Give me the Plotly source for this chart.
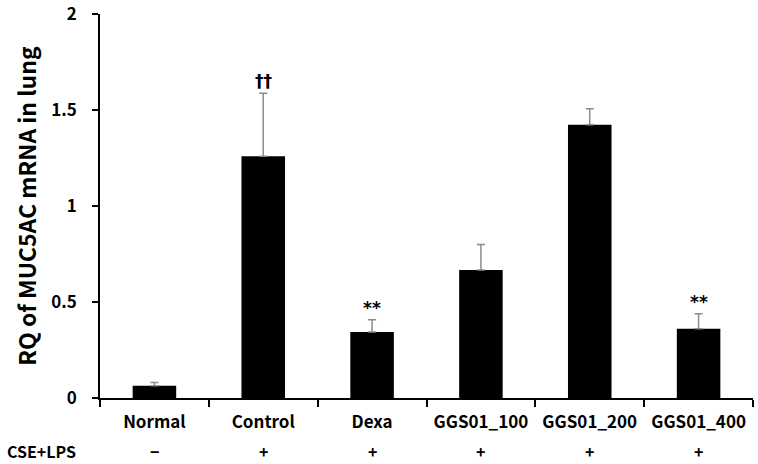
import plotly.graph_objects as go

groups = ["Normal", "Control", "Dexa", "GGS01_100", "GGS01_200", "GGS01_400"]
means = [0.064, 1.259, 0.344, 0.667, 1.423, 0.361]
err_top = [0.081, 1.587, 0.408, 0.800, 1.506, 0.439]
signif = ["", "††", "**", "", "", "**"]
cse_lps = ["−", "+", "+", "+", "+", "+"]

FONT = "Noto Sans CJK KR"

fig = go.Figure()
fig.add_trace(go.Bar(
    x=groups, y=means, width=0.4,
    marker=dict(color="black", line=dict(color="black", width=0)),
    error_y=dict(type="data", symmetric=False,
                 array=[t - m for t, m in zip(err_top, means)],
                 arrayminus=[0] * len(means),
                 color="#8c8c8c", thickness=1.5, width=4),
))

for g, t, s in zip(groups, err_top, signif):
    if s:
        fig.add_annotation(x=g, y=t, text=s, showarrow=False, yanchor="bottom",
                           yshift=0, font=dict(family="DejaVu Sans", size=17, color="black", weight="bold"))

for g, s in zip(groups, cse_lps):
    fig.add_annotation(x=g, y=-0.137, yref="paper", text=s, showarrow=False,
                       yanchor="middle", font=dict(family=FONT, size=16, color="black", weight="bold"))
fig.add_annotation(x=-0.1455, xref="paper", y=-0.137, yref="paper", text="CSE+LPS",
                   showarrow=False, xanchor="left", yanchor="middle",
                   font=dict(family=FONT, size=16, color="black", weight="bold"))

fig.update_layout(
    width=758, height=464,
    margin=dict(l=100, r=5, t=14, b=66),
    paper_bgcolor="white", plot_bgcolor="white",
    showlegend=False, bargap=0.6,
    font=dict(family=FONT, color="black"),
)
fig.update_xaxes(
    showline=True, linecolor="black", linewidth=1.5,
    ticks="outside", ticklen=7, tickwidth=1.5, tickcolor="black",
    tickson="boundaries", showgrid=False, ticklabelstandoff=8, automargin=False,
    tickfont=dict(family=FONT, size=17, color="black", weight="bold"),
)
fig.update_yaxes(
    range=[0, 2], tickmode="linear", tick0=0, dtick=0.5, tickformat="~g",
    ticklabeloverflow="allow", automargin=False,
    showline=True, linecolor="black", linewidth=1.5,
    ticks="outside", ticklen=6, tickwidth=1.5, tickcolor="black",
    showgrid=False, zeroline=False, ticklabelstandoff=12,
    tickfont=dict(family=FONT, size=17, color="black", weight="bold"),
    title=dict(text="RQ of MUC5AC mRNA in lung", standoff=8,
               font=dict(family=FONT, size=23, color="black", weight="bold")),
)

fig.write_html("out.html")
